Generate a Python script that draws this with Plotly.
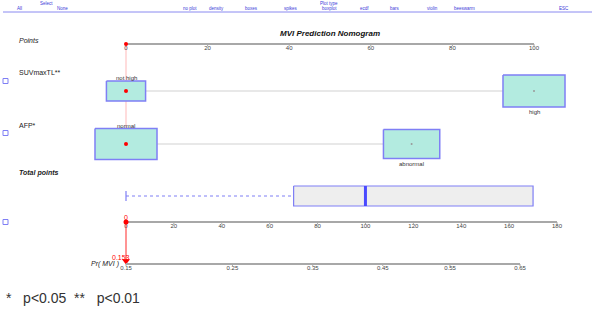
import math
import plotly.graph_objects as go

# ---------------- data ----------------
suv_levels = ["not high", "high"]
suv_points = [0, 100]
afp_levels = ["normal", "abnormal"]
afp_points = [0, 70]
points_ticks = [0, 20, 40, 60, 80, 100]
total_ticks = [0, 20, 40, 60, 80, 100, 120, 140, 160, 180]
prob_ticks = [0.15, 0.25, 0.35, 0.45, 0.55, 0.65]
total_summary = [0, 70, 100, 170, 170]  # min, q1, median, q3, max
selected_total = 0
selected_prob = 0.153
toolbar_items = ["All", "None", "no plot", "density", "boxes", "spikes", "boxplot",
                 "ecdf", "bars", "violin", "beeswarm", "ESC"]

# ---------------- layout constants ----------------
W, H = 597, 314
PTS_DOM = [126 / W, 534 / W]
TOT_DOM = [126 / W, 557 / W]
PROB_DOM = [126 / W, 520 / W]
Y_POINTS, Y_SUV, Y_AFP, Y_TOTBOX, Y_TOTAL, Y_PROB = 44, 91, 144, 196, 222, 264

BOX_FILL = "#b3ebe0"
BOX_LINE = "#7f7ff5"
AX_COL = "#a8a8a8"
TXT = "#444444"
FONT = "Liberation Sans"


def logit(p):
    return math.log(p / (1 - p))


def full_range(dom, rng):
    span = (rng[1] - rng[0]) / (dom[1] - dom[0])
    return [rng[0] - dom[0] * span, rng[1] + (1 - dom[1]) * span]


PTS_RANGE = [0, 100]
TOT_RANGE = [0, 180]
PROB_RANGE = [logit(prob_ticks[0]), logit(prob_ticks[-1])]

fig = go.Figure()


def line(xs, ys, axis, color, width, dash=None):
    fig.add_trace(go.Scatter(x=xs, y=ys, xaxis=axis, yaxis="y", mode="lines",
                             line=dict(color=color, width=width, dash=dash),
                             hoverinfo="skip", showlegend=False))


def dot(x, y, axis, color, size, symbol="circle"):
    fig.add_trace(go.Scatter(x=[x], y=[y], xaxis=axis, yaxis="y", mode="markers",
                             marker=dict(color=color, size=size, symbol=symbol),
                             cliponaxis=False, hoverinfo="skip", showlegend=False))


def rect(x0, x1, y0, y1, fill, col, axis="x", width=1.5):
    fig.add_trace(go.Scatter(
        x=[x0, x1, x1, x0, x0], y=[y0, y0, y1, y1, y0], xaxis=axis, yaxis="y",
        mode="lines", fill="toself", fillcolor=fill,
        line=dict(color=col, width=width), hoverinfo="skip", showlegend=False))


def draw_axis(axis, tickpos, ticktext, y):
    line([tickpos[0], tickpos[-1]], [y, y], axis, AX_COL, 2)
    for tp in tickpos:
        line([tp, tp], [y, y + 2], axis, AX_COL, 1)
    fig.add_trace(go.Scatter(x=tickpos, y=[y + 1] * len(tickpos), xaxis=axis, yaxis="y",
                             mode="text", text=ticktext, textposition="bottom center",
                             textfont=dict(size=6, color=TXT, family=FONT),
                             cliponaxis=False, hoverinfo="skip", showlegend=False))


# axes
draw_axis("x", points_ticks, [str(t) for t in points_ticks], Y_POINTS)
draw_axis("x2", total_ticks, [str(t) for t in total_ticks], Y_TOTAL)
draw_axis("x3", [logit(p) for p in prob_ticks], [f"{p:.2f}" for p in prob_ticks], Y_PROB)

# red selection line from points axis
line([suv_points[0], suv_points[0]], [Y_POINTS, Y_AFP + 15], "x", "rgba(255,80,80,0.4)", 1)
dot(0, Y_POINTS, "x", "red", 4)

rows = [
    (suv_levels, suv_points, Y_SUV, [4.8, 7.6], [20, 32], [True, False]),
    (afp_levels, afp_points, Y_AFP, [7.6, 6.9], [31, 29], [True, False]),
]
for levels, pts, yrow, hw, hh, above in rows:
    line([min(pts), max(pts)], [yrow, yrow], "x", "#e0e0e0", 1.5)
    for i, (lv, p) in enumerate(zip(levels, pts)):
        rect(p - hw[i], p + hw[i], yrow - hh[i] / 2, yrow + hh[i] / 2, BOX_FILL, BOX_LINE)
        ty = yrow - hh[i] / 2 - 3 if above[i] else yrow + hh[i] / 2 + 5
        fig.add_annotation(x=p, y=ty, xref="x", yref="y", text=lv, showarrow=False,
                           font=dict(size=6, color="#333", family=FONT))
    dot(pts[1], yrow, "x", "#9a9a9a", 2)
    dot(pts[0], yrow, "x", "red", 4)

# total points boxplot
mn, q1, med, q3, mx = total_summary
line([mn, q1], [Y_TOTBOX, Y_TOTBOX], "x2", BOX_LINE, 1, dash="dot")
line([mn, mn], [Y_TOTBOX - 5, Y_TOTBOX + 5], "x2", BOX_LINE, 1.2)
rect(q1, q3, Y_TOTBOX - 10, Y_TOTBOX + 10, "#eeeeee", BOX_LINE, axis="x2", width=1.2)
line([med, med], [Y_TOTBOX - 10, Y_TOTBOX + 10], "x2", "#4a4aff", 3)

# selection from total points to probability
line([selected_total, selected_total], [Y_TOTAL, Y_PROB - 4], "x2", "rgba(255,60,60,0.55)", 2)
dot(selected_total, Y_TOTAL, "x2", "red", 5)
dot(selected_total, Y_PROB - 3, "x2", "red", 7, symbol="triangle-down")
fig.add_annotation(x=selected_total, y=Y_TOTAL - 5, xref="x2", yref="y", text=str(selected_total),
                   showarrow=False, font=dict(size=7, color="red", family=FONT))
fig.add_annotation(x=selected_total, y=Y_PROB - 7, xref="x2", yref="y", text=f"{selected_prob:.3f}",
                   showarrow=False, xshift=-5, font=dict(size=7, color="red", family=FONT))


# left labels
def left_label(txt, y, italic=False, bold=False, xanchor="left", x=17 / W):
    t = f"<b>{txt}</b>" if bold else txt
    if italic:
        t = f"<i>{t}</i>"
    fig.add_annotation(x=x, y=y, xref="paper", yref="y", text=t, showarrow=False,
                       xanchor=xanchor, font=dict(size=7, color="#222", family=FONT))


left_label("Points", 40, italic=True)
left_label("SUVmaxTL**", 72)
left_label("AFP*", 125)
left_label("Total points", 173, italic=True, bold=True)
left_label("Pr( MVI )", Y_PROB, italic=True, xanchor="right", x=121 / W)

fig.add_annotation(x=sum(PTS_RANGE) / 2, y=33, xref="x", yref="y",
                   text="<b><i>MVI Prediction Nomogram</i></b>", showarrow=False,
                   font=dict(size=8, color="#111", family=FONT))

# small selector squares at left
for yy in [81, 133, Y_TOTAL]:
    fig.add_shape(type="rect", xref="paper", yref="y", x0=3 / W, x1=8 / W, y0=yy - 2.5, y1=yy + 2.5,
                  line=dict(color=BOX_LINE, width=1), fillcolor="white")

# toolbar
tb_x = [15, 55, 181, 216, 251, 291, 329, 364, 402, 440, 477, 571]
for item, xx in zip(toolbar_items, tb_x):
    fig.add_annotation(x=xx / W, y=8, xref="paper", yref="y", text=item, showarrow=False,
                       font=dict(size=4.5, color="#3a3ad8", family=FONT))
for item, xx in [("Select", 38), ("Plot type", 329)]:
    fig.add_annotation(x=xx / W, y=3, xref="paper", yref="y", text=item, showarrow=False,
                       font=dict(size=4.5, color="#3a3ad8", family=FONT))
fig.add_shape(type="line", xref="paper", yref="y", x0=3 / W, x1=592 / W, y0=12, y1=12,
              line=dict(color="#8a8af0", width=1))

# footnote
fig.add_annotation(x=4 / W, y=298, xref="paper", yref="y",
                   text="*&nbsp;&nbsp;&nbsp;p<0.05&nbsp;&nbsp;**&nbsp;&nbsp;&nbsp;p<0.01", showarrow=False,
                   xanchor="left", font=dict(size=14, color="#333", family=FONT))

hidden = dict(domain=[0, 1], visible=False, fixedrange=True, anchor="y")
fig.update_layout(
    width=W, height=H, margin=dict(l=0, r=0, t=0, b=0),
    paper_bgcolor="white", plot_bgcolor="rgba(0,0,0,0)", showlegend=False,
    xaxis=dict(range=full_range(PTS_DOM, PTS_RANGE), **hidden),
    xaxis2=dict(range=full_range(TOT_DOM, TOT_RANGE), overlaying="x", **hidden),
    xaxis3=dict(range=full_range(PROB_DOM, PROB_RANGE), overlaying="x", **hidden),
    yaxis=dict(domain=[0, 1], range=[H, 0], visible=False, anchor="x", fixedrange=True),
)

fig.write_html("out.html", config={"displayModeBar": False},
               post_script="document.body.style.margin='0';document.body.style.overflow='hidden';")
